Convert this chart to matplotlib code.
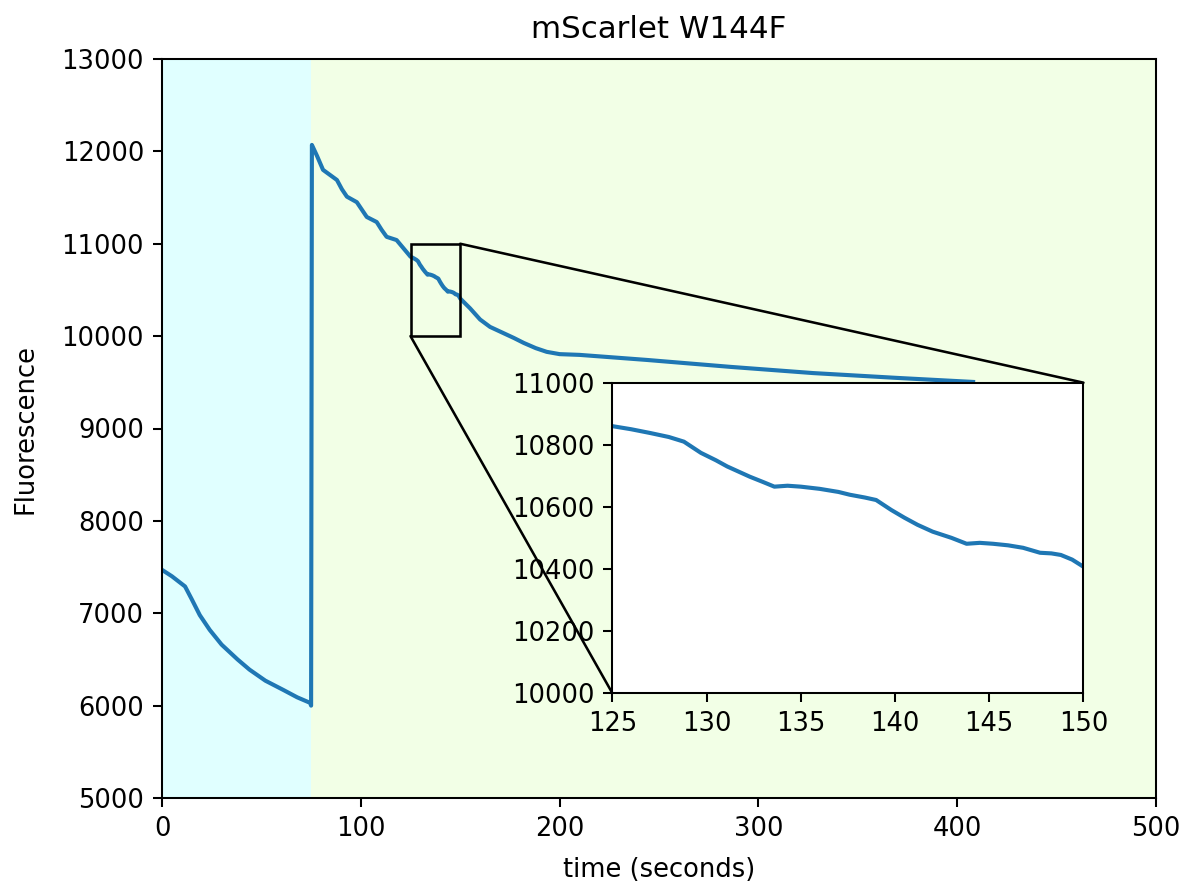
import matplotlib
matplotlib.use("Agg")
import matplotlib.pyplot as plt
from matplotlib.patches import Rectangle, ConnectionPatch

# Fluorescence trace (time in s)
dark_t = [0, 5, 11.6, 15, 19, 24, 30, 38, 44, 52, 61, 68, 74.5, 75]
dark_f = [7470, 7400, 7290, 7150, 6980, 6820, 6660, 6500, 6390, 6270, 6170, 6090, 6030, 6000]

# light on, up to the zoom window
light_t = [75, 75.4, 78, 81, 84.5, 88, 90.5, 93, 98, 100.5, 103, 108, 110.5, 113,
           118, 121.5]
light_f = [6000, 12070, 11950, 11800, 11745, 11690, 11590, 11510, 11450, 11370,
           11290, 11235, 11150, 11075, 11040, 10950]

# zoomed window 125-150 s
zoom_t = [125, 126, 127, 128, 128.8, 129.7, 130.5, 131.1, 132.3, 133, 133.6, 134.3,
          135, 136, 137, 137.6, 138.4, 139, 139.8, 140.5, 141.2, 142, 143, 143.8,
          144.5, 145.2, 146, 146.8, 147.7, 148.3, 148.8, 149.4, 150]
zoom_f = [10860, 10850, 10838, 10825, 10810, 10774, 10750, 10730, 10697, 10680,
          10665, 10668, 10665, 10658, 10648, 10639, 10630, 10622, 10590, 10565,
          10542, 10520, 10500, 10481, 10484, 10481, 10476, 10468, 10452, 10450,
          10445, 10430, 10407]

# after the zoom window
tail_t = [155, 160, 165, 171.5, 177, 182, 188, 193.5, 200, 210, 244, 286, 327.5,
          369.5, 408]
tail_f = [10300, 10180, 10100, 10035, 9980, 9926, 9870, 9830, 9805, 9797, 9742,
          9667, 9600, 9548, 9504]

dpi = 185
fig = plt.figure(figsize=(1185 / dpi, 886 / dpi), dpi=dpi)
ax = fig.add_axes([162 / 1185, 88 / 886, 994 / 1185, 739 / 886])

ax.axvspan(0, 75, color="#e0ffff", lw=0)
ax.axvspan(75, 500, color="#f2ffe6", lw=0)

line_color = "#1f77b4"
ax.plot(dark_t + light_t + zoom_t + tail_t, dark_f + light_f + zoom_f + tail_f,
        color=line_color, lw=1.6)

ax.set_xlim(0, 500)
ax.set_ylim(5000, 13000)
ax.set_title("mScarlet W144F", fontsize=12, pad=8)
ax.set_xlabel("time (seconds)", labelpad=6)
ax.set_ylabel("Fluorescence", labelpad=9)

# inset zoom
x1, x2, y1, y2 = 125, 150, 10000, 11000
axins = ax.inset_axes([0.453, 0.142, 0.474, 0.42])
axins.plot(zoom_t, zoom_f, color=line_color, lw=1.6)
axins.set_xlim(x1, x2)
axins.set_ylim(y1, y2)
axins.set_facecolor("white")

ax.add_patch(Rectangle((x1, y1), x2 - x1, y2 - y1, fill=False, ec="black", lw=1, zorder=4.99))
for xy_data, xy_ins in [((x1, y1), (0, 0)), ((x2, y2), (1, 1))]:
    con = ConnectionPatch(xyA=xy_data, coordsA=ax.transData, xyB=xy_ins, coordsB=axins.transAxes,
                          color="black", lw=1, zorder=10)
    fig.add_artist(con)

fig.savefig("out.png", dpi=dpi)
